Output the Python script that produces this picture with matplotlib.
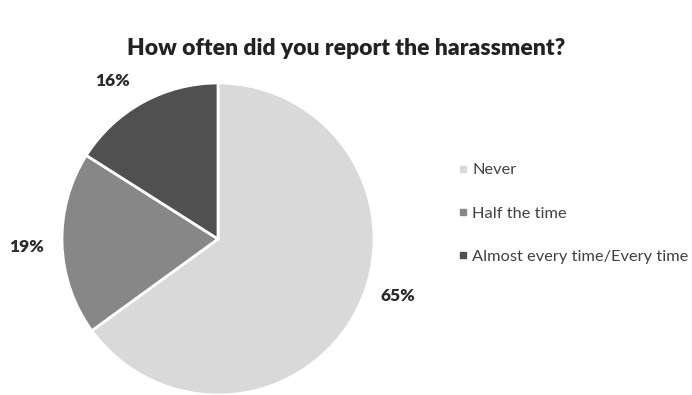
import matplotlib
matplotlib.use('Agg')
import matplotlib.pyplot as plt
from matplotlib.lines import Line2D

# Data
labels = ['Never', 'Half the time', 'Almost every time/Every time']
values = [65, 19, 16]
colors = ['#d9d9d9', '#878787', '#505050']
pct_text = ['65%', '19%', '16%']

plt.rcParams['font.family'] = ['Lato', 'DejaVu Sans']

fig = plt.figure(figsize=(6.92, 3.95), dpi=100)
fig.patch.set_facecolor('white')

# Pie axes
ax = fig.add_axes([0.0896, 0.0, 0.4509, 0.79])
wedges, _ = ax.pie(values, colors=colors, startangle=90, counterclock=False,
                   radius=1, wedgeprops=dict(edgecolor='white', linewidth=2))
ax.set_xlim(-1, 1)
ax.set_ylim(-1, 1)
ax.set_aspect('equal')

# Label positions (outside end, like Excel)
label_pos = [(1.155, -0.365), (-1.225, -0.05), (-0.675, 1.01)]
for (x, y), t in zip(label_pos, pct_text):
    ax.text(x, y, t, ha='center', va='center', fontsize=12.5, fontweight='heavy',
            color='#2b2b2b', clip_on=False)

fig.text(0.5, 0.878, 'How often did you report the harassment?', ha='center',
         va='center', fontsize=16.5, fontweight='heavy', color='#222222')

# Legend
handles = [Line2D([], [], marker='s', linestyle='none', markersize=5,
                  markerfacecolor=c, markeredgecolor=c) for c in colors]
leg = fig.legend(handles, labels, loc='center left', bbox_to_anchor=(0.636, 0.46),
                 frameon=False, fontsize=11.8, labelspacing=1.75, handletextpad=0.05,
                 handlelength=1.0, labelcolor='#404040')

fig.savefig('out.png', dpi=100)
